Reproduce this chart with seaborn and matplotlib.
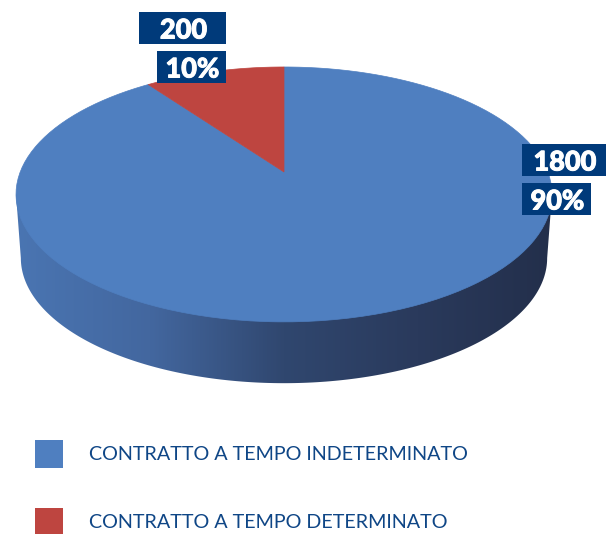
import numpy as np
import matplotlib
matplotlib.use("Agg")
import matplotlib.pyplot as plt
import matplotlib.patheffects as pe
from matplotlib.patches import Polygon, Rectangle
from matplotlib.transforms import Affine2D
import seaborn as sns

categories = ["CONTRATTO A TEMPO INDETERMINATO", "CONTRATTO A TEMPO DETERMINATO"]
values = [1800, 200]
percent_labels = ["90%", "10%"]
colors = ["#4f7fc0", "#be4540"]
side_colors = ["#4a75b2", "#43679f", "#30476f", "#2a3a5c", "#232f4b"]
box_color = "#003a7a"
legend_text_color = "#0f4686"

sns.set_theme(style="white")
plt.rcParams["font.family"] = ["Lato", "DejaVu Sans"]

# perspective of the disc, in pixels
cx, cy = 284, 172
k = 0.176
a = 123.5
b = 263.8


def project(pts, shrink=1.0, dy=0.0):
    u, v = pts[:, 0], pts[:, 1]
    d = 1 + k * v
    x = cx + shrink * b * u / d
    y = cy - shrink * a * v / d + dy
    return np.column_stack([x, y])


fig = plt.figure(figsize=(6.06, 5.34), dpi=100)
ax = fig.add_axes([0, 0, 1, 1])
wedges, _ = ax.pie(values, colors=colors, startangle=90, counterclock=False)
ax.set_aspect("auto")
ax.axis("off")

# side wall with the left to right shading
start = np.arcsin(k)
t = np.linspace(np.pi + start, 2 * np.pi - start, 200)
circle = np.column_stack([np.cos(t), np.sin(t)])
lower_edge = project(circle, shrink=0.982, dy=64)
left = project(np.array([[-np.sqrt(1 - k**2), -k]]))
right = project(np.array([[np.sqrt(1 - k**2), -k]]))
outline = np.vstack([left, lower_edge, right])
side = Polygon(outline, closed=True, fc="none", ec="none", transform=ax.transData)
ax.add_patch(side)
cmap = sns.blend_palette(side_colors, as_cmap=True)
img = ax.imshow(np.linspace(0, 1, 256)[None, :], cmap=cmap, aspect="auto",
                extent=[16, 552, 400, 150], zorder=1)
img.set_clip_path(side)
ax.set_xlim(0, 606)
ax.set_ylim(534, 0)

# top of the disc from the pie wedges
for w, col in zip(wedges, colors):
    polys = w.get_path().to_polygons(Affine2D().scale(400))
    w.set_visible(False)
    ax.add_patch(Polygon(project(polys[0] / 400), closed=True, fc=col, ec=col, lw=0.5, zorder=2))

# value boxes
boxes = [(522, 144, 84, 32), (522, 183, 69, 32), (139, 12, 87, 32), (157, 51, 69, 32)]
box_texts = [str(values[0]), percent_labels[0], str(values[1]), percent_labels[1]]
for (x, y, w, h), s in zip(boxes, box_texts):
    ax.add_patch(Rectangle((x, y), w, h, fc=box_color, ec="none", zorder=3))
    ax.text(x + w / 2 + 1, y + h / 2 + 0.5, s, color="white", fontsize=19.5, fontweight="black",
            ha="center", va="center_baseline", zorder=4,
            path_effects=[pe.withStroke(linewidth=0.7, foreground="white")])

# legend
legend_y = [440, 508]
for y, col, name in zip(legend_y, colors, categories):
    ax.add_patch(Rectangle((35, y), 28, 28, fc=col, ec="none", zorder=3))
    ax.text(89, y + 13, name, color=legend_text_color, fontsize=14.2, ha="left",
            va="center_baseline", zorder=4)

fig.savefig("out.png", dpi=100)
